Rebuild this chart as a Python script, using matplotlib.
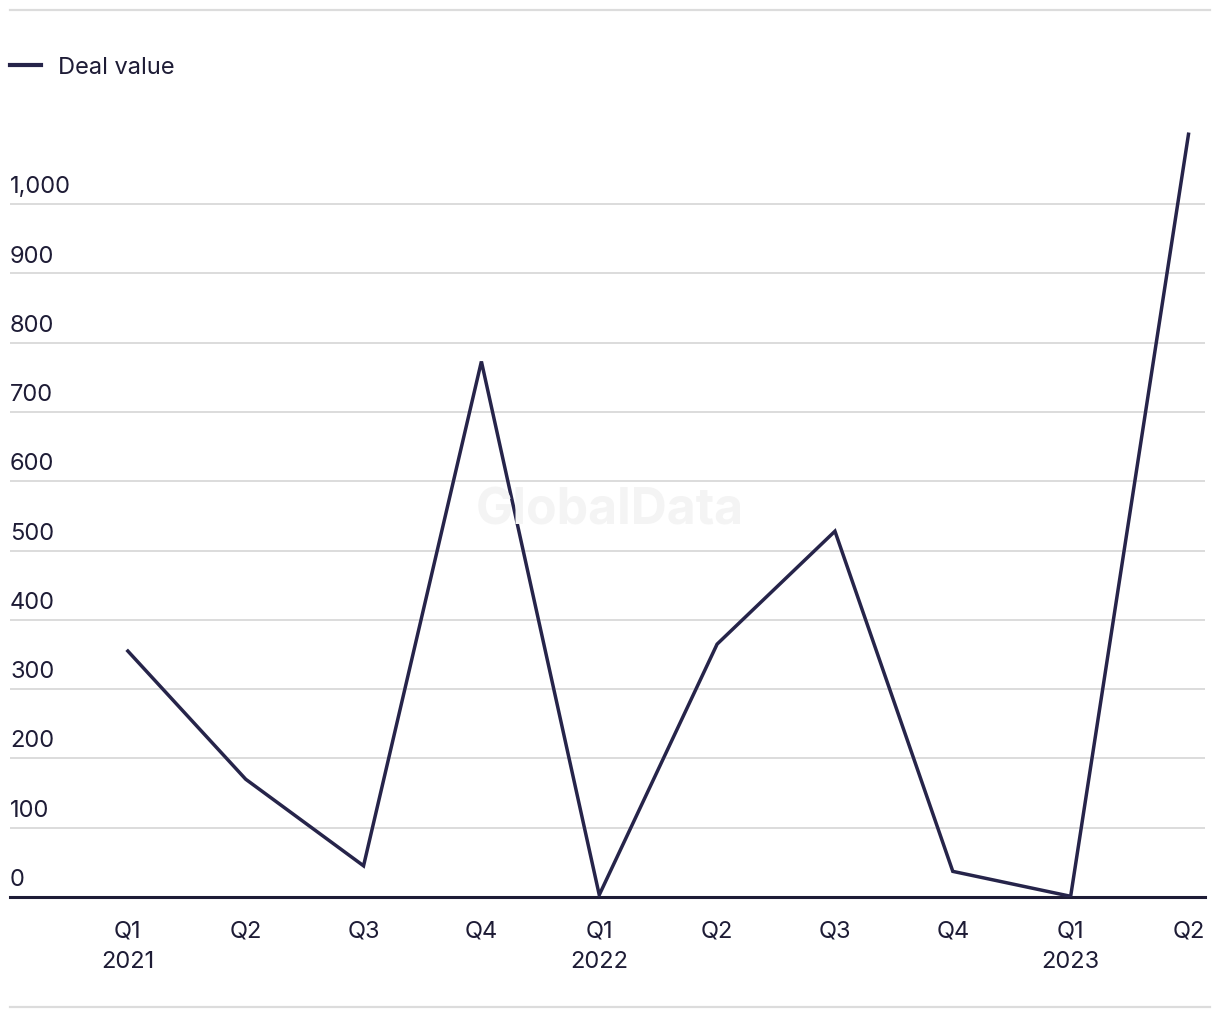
import matplotlib.pyplot as plt
from matplotlib.lines import Line2D
import matplotlib.transforms as mtransforms

quarters = ['Q1', 'Q2', 'Q3', 'Q4', 'Q1', 'Q2', 'Q3', 'Q4', 'Q1', 'Q2']
years = ['2021', '', '', '', '2022', '', '', '', '2023', '']
deal_value = [355, 170, 45, 773, 3, 365, 528, 37, 1, 1101]
y_ticks = [0, 100, 200, 300, 400, 500, 600, 700, 800, 900, 1000]

line_color = '#26244a'
grid_color = '#dcdcdc'
text_color = '#1e1c36'
fs = 17

plt.rcParams['font.family'] = ['Inter', 'DejaVu Sans']

fig = plt.figure(figsize=(12.2, 10.2), dpi=100)
ax = fig.add_axes([10 / 1220, 122 / 1020, 1195 / 1220, 778 / 1020])

x = list(range(len(deal_value)))
ax.plot(x, deal_value, color=line_color, linewidth=2.5, label='Deal value',
        solid_joinstyle='miter', zorder=3)

ax.set_xlim(-1.0, 9.14)
ax.set_ylim(0, 1123)

# gridlines
for t in y_ticks[1:]:
    ax.axhline(t, color=grid_color, linewidth=1.4, zorder=1)
ax.axhline(0, color=text_color, linewidth=2.2, zorder=2, clip_on=False)

for s in ax.spines.values():
    s.set_visible(False)

# y labels sit above their gridline, left aligned
ax.set_yticks([])
trans = mtransforms.blended_transform_factory(ax.transAxes, ax.transData)
trans = mtransforms.offset_copy(trans, fig=fig, y=5, units='points')
for t in y_ticks:
    ax.text(0, t, f'{t:,}', transform=trans, ha='left', va='bottom',
            fontsize=fs, color=text_color)

ax.set_xticks(x)
ax.set_xticklabels([q + ('\n' + yy if yy else '') for q, yy in zip(quarters, years)],
                   fontsize=fs, color=text_color, linespacing=1.5, va='top')
ax.tick_params(axis='x', length=0, pad=16)

# legend
leg = ax.legend(loc='center left', bbox_to_anchor=(10 / 1220, 1 - 68 / 1020),
                bbox_transform=fig.transFigure, frameon=False, fontsize=fs,
                handlelength=1.3, handletextpad=0.75, borderaxespad=0, borderpad=0)
for txt in leg.get_texts():
    txt.set_color(text_color)
for h in leg.get_lines():
    h.set_linewidth(3)

# watermark
fig.text(610 / 1220, 1 - 511 / 1020, 'GlobalData', ha='center', va='center',
         fontsize=36, fontweight='bold', color='#f4f4f4', zorder=0)

# top and bottom rules
fig.add_artist(Line2D([10 / 1220, 1210 / 1220], [1 - 11 / 1020, 1 - 11 / 1020],
                      color=grid_color, linewidth=1.6))
fig.add_artist(Line2D([10 / 1220, 1210 / 1220], [1 - 1008 / 1020, 1 - 1008 / 1020],
                      color=grid_color, linewidth=1.6))

fig.savefig('out.png', dpi=100, facecolor='white')
